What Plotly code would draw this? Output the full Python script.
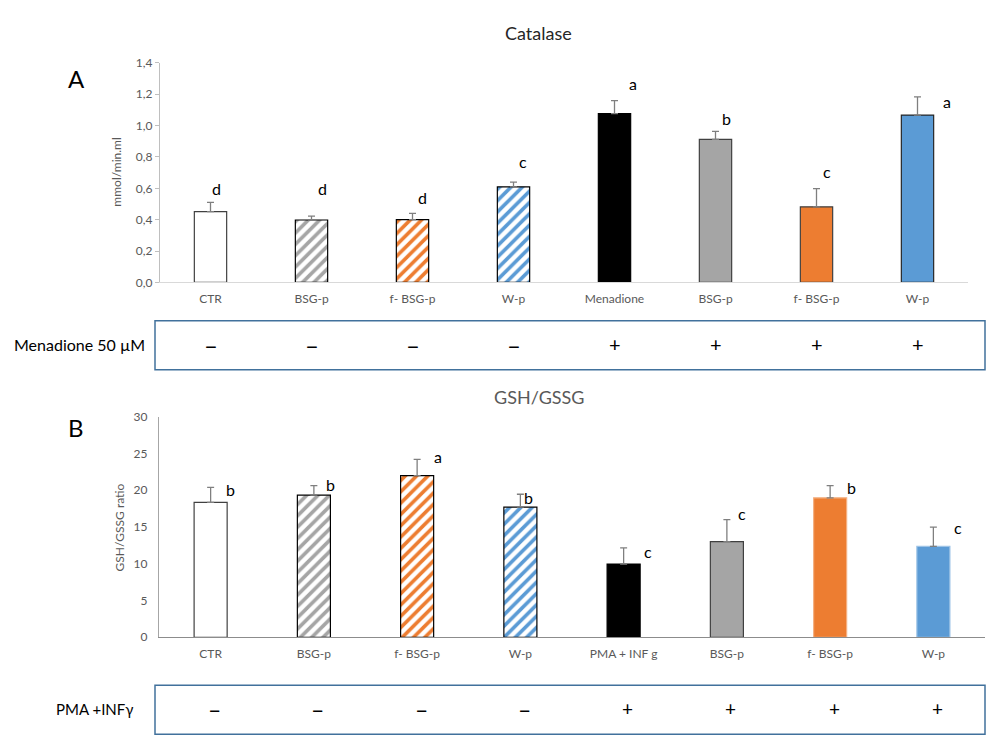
import plotly.graph_objects as go

# --- data ---------------------------------------------------------------
cat_top = ["CTR", "BSG-p", "f- BSG-p", "W-p", "Menadione", "BSG-p", "f- BSG-p", "W-p"]
cat_bot = ["CTR", "BSG-p", "f- BSG-p", "W-p", "PMA + INF g", "BSG-p", "f- BSG-p", "W-p"]

catalase_mean = [0.452, 0.398, 0.400, 0.610, 1.077, 0.912, 0.482, 1.067]
catalase_sd = [0.058, 0.025, 0.040, 0.030, 0.083, 0.051, 0.116, 0.116]
catalase_letters = ["d", "d", "d", "c", "a", "b", "c", "a"]

gsh_mean = [18.35, 19.33, 22.0, 17.7, 9.96, 13.0, 18.97, 12.37]
gsh_sd = [2.05, 1.3, 2.2, 1.75, 2.2, 3.0, 1.65, 2.6]
gsh_letters = ["b", "b", "a", "b", "c", "c", "b", "c"]

menadione_signs = ["–", "–", "–", "–", "+", "+", "+", "+"]
pma_signs = ["–", "–", "–", "–", "+", "+", "+", "+"]

# --- styling --------------------------------------------------------------
FONT = "Lato"
GREY_TXT = "#595959"
ORANGE, BLUE, GREY = "#ED7D31", "#5B9BD5", "#A5A5A5"

fill = ["white", GREY, ORANGE, BLUE, "black", GREY, ORANGE, BLUE]
hatch = ["", "/", "/", "/", "", "", "", ""]
edge_top = ["#404040", "black", "black", "black", "black", "#404040", "#404040", "#262626"]
edge_bot = ["#404040", "black", "black", "black", "black", "#404040", "#F4B183", "#9DC3E6"]
sign_size = {"–": 24, "+": 20}

# letter placement (pixel shift from bar centre, height in data units)
dx_top = [6, 11, 10, 9, 18, 11, 10, 29]
ly_top = [0.60, 0.60, 0.54, 0.77, 1.27, 1.046, 0.71, 1.156]
dx_bot = [20, 17, 21, 8, 24, 15, 21, 25]
ly_bot = [20.1, 20.8, 24.55, 19.0, 11.7, 16.9, 20.4, 14.95]

H = 755.0
def py(pix):
    return 1 - pix / H

xs = list(range(8))

fig = go.Figure()


def add_bars(mean, sd, edge, xa, ya):
    # one trace per bar so each can carry its own hatch colour
    for i in xs:
        pat = dict(shape=hatch[i])
        if hatch[i]:
            pat.update(fgcolor=fill[i], bgcolor="white", size=8, solidity=0.45,
                       fgopacity=1, fillmode="replace")
        fig.add_trace(go.Bar(
            x=[i], y=[mean[i]], xaxis=xa, yaxis=ya,
            marker=dict(color=fill[i], line=dict(color=edge[i], width=1.2),
                        pattern=pat),
            error_y=dict(type="data", symmetric=False, array=[sd[i]],
                         arrayminus=[0], color="#7f7f7f",
                         thickness=1.3, width=3.5),
            hoverinfo="skip",
        ))


add_bars(catalase_mean, catalase_sd, edge_top, "x", "y")
add_bars(gsh_mean, gsh_sd, edge_bot, "x2", "y2")

ann = []
for i in xs:
    ann.append(dict(x=i, y=ly_top[i], xref="x", yref="y", text=catalase_letters[i],
                    showarrow=False, xshift=dx_top[i], yanchor="middle",
                    font=dict(family=FONT, size=16, color="black")))
    ann.append(dict(x=i, y=ly_bot[i], xref="x2", yref="y2", text=gsh_letters[i],
                    showarrow=False, xshift=dx_bot[i], yanchor="middle",
                    font=dict(family=FONT, size=16, color="black")))
    ann.append(dict(x=i, y=py(343), xref="x", yref="paper", text=menadione_signs[i],
                    showarrow=False, yanchor="middle",
                    font=dict(family=FONT, size=sign_size[menadione_signs[i]], color="black")))
    ann.append(dict(x=i, y=py(715), xref="x2", yref="paper", text=pma_signs[i],
                    showarrow=False, xshift=4, yanchor="middle",
                    font=dict(family=FONT, size=sign_size[pma_signs[i]] - 1, color="black")))


def label(x, y, text, size, color, **kw):
    d = dict(x=x, y=py(y), xref="paper", yref="paper", text=text, showarrow=False,
             xanchor="center", yanchor="middle",
             font=dict(family=FONT, size=size, color=color))
    d.update(kw)
    return d


ann += [
    label(0.538, 25, "Catalase", 18, "#262626"),
    label(0.539, 397, "GSH/GSSG", 18, GREY_TXT),
    label(0.076, 72, "A", 24, "black"),
    label(0.076, 428, "B", 24, "black"),
    label(0.117, 168, "mmol/min.ml", 12, GREY_TXT, textangle=-90),
    label(0.119, 530, "GSH/GSSG ratio", 12, GREY_TXT, textangle=-90),
    label(0.147, 343, "Menadione 50 µM", 16, "black", xanchor="right"),
    label(0.135, 715, "PMA +INFγ", 15, "black", xanchor="right"),
]

box = dict(type="rect", xref="paper", yref="paper", x0=0.155, x1=0.985,
           line=dict(color="#41719C", width=1.5), fillcolor="rgba(0,0,0,0)")
shapes = [dict(box, y0=py(369), y1=py(319)), dict(box, y0=py(741), y1=py(691))]

tickfont = dict(family=FONT, size=12, color=GREY_TXT)

fig.update_layout(
    width=1000, height=755,
    margin=dict(l=0, r=0, t=0, b=0),
    paper_bgcolor="white", plot_bgcolor="white",
    showlegend=False, separators=",.",
    barmode="overlay", bargap=0.68,
    annotations=ann, shapes=shapes,
    xaxis=dict(domain=[0.16, 0.968], range=[-0.5, 7.5], tickvals=xs, ticktext=cat_top,
               showline=True, linecolor="#d9d9d9", linewidth=1.2, ticks="",
               showgrid=False, zeroline=False, tickfont=tickfont,
               ticklabelstandoff=5, anchor="y"),
    yaxis=dict(domain=[py(280), py(56)], range=[0, 1.4], dtick=0.2, tickformat=".1f",
               showline=True, linecolor="#bfbfbf", linewidth=1.2, ticks="outside",
               ticklen=4, tickcolor="#bfbfbf", showgrid=False, zeroline=False,
               tickfont=tickfont, anchor="x"),
    xaxis2=dict(domain=[0.159, 0.985], range=[-0.5, 7.5], tickvals=xs, ticktext=cat_bot,
                showline=True, linecolor="#8c8c8c", linewidth=1.2, ticks="",
                showgrid=False, zeroline=False, tickfont=tickfont,
                ticklabelstandoff=5, anchor="y2"),
    yaxis2=dict(domain=[py(642), py(417)], range=[0, 30], dtick=5,
                showline=True, linecolor="#a6a6a6", linewidth=1.2, ticks="",
                showgrid=False, zeroline=False, tickfont=tickfont,
                ticklabelstandoff=8, anchor="x2"),
)

fig.write_html("out.html", config={"displayModeBar": False},
               post_script="document.body.style.margin='0';")
